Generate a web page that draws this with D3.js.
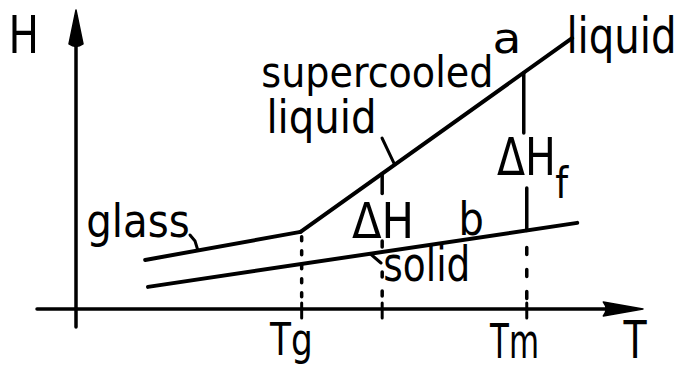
<!DOCTYPE html>
<html>
<head>
<meta charset="utf-8">
<script src="https://cdn.jsdelivr.net/npm/d3@7"></script>
<style>
  html, body { margin: 0; padding: 0; background: #fff; }
  svg { display: block; }
  text { fill: #000; }
</style>
</head>
<body>
<svg id="chart" width="679" height="367"></svg>
<script>
// Enthalpy H against temperature T (arbitrary units, 0–100 on both axes)
const glassLine  = [{ T: 12.2, H: 16.4 }, { T: 39.6, H: 25.8 }];
const liquidLine = [{ T: 39.6, H: 25.8 }, { T: 87.5, H: 90.6 }];
const solidLine  = [{ T: 12.7, H: 7.4 },  { T: 88.4, H: 28.8 }];

const tickTemps  = [39.8, 54.0, 79.5];
const tickLabels = ["Tg", "", "Tm"];
const deltaT     = 54.0;   // where the ΔH gap is marked
const meltT      = 79.5;   // Tm, where ΔHf is marked

const FONT = '"DejaVu Sans Condensed", "DejaVu Sans", sans-serif';
const svg = d3.select("#chart");

const x = d3.scaleLinear().domain([0, 100]).range([76, 643]);
const y = d3.scaleLinear().domain([0, 100]).range([309, 10]);

// value of a straight segment at temperature t
const at = (seg, t) =>
  d3.scaleLinear().domain([seg[0].T, seg[1].T]).range([seg[0].H, seg[1].H])(t);

const ink = "#000";
const g = svg.append("g")
  .attr("stroke", ink).attr("stroke-linecap", "round").attr("fill", "none");

// axes
g.append("line").attr("x1", 37).attr("x2", x(95)).attr("y1", y(0)).attr("y2", y(0)).attr("stroke-width", 3.5);
g.append("line").attr("x1", x(0)).attr("x2", x(0)).attr("y1", y(0) + 18).attr("y2", y(88)).attr("stroke-width", 3.5);
svg.append("path")
  .attr("d", `M${x(0)},${y(100)} L${x(0) + 7},${y(88) - 2} Q${x(0)},${y(87)} ${x(0) - 7},${y(88) - 2} Z`)
  .attr("fill", ink).attr("stroke", ink).attr("stroke-width", 1.5).attr("stroke-linejoin", "round");
svg.append("path")
  .attr("d", `M${x(100)},${y(0)} L${x(93)},${y(0) - 7} Q${x(94)},${y(0)} ${x(93)},${y(0) + 7} Z`)
  .attr("fill", ink).attr("stroke", ink).attr("stroke-width", 1.5).attr("stroke-linejoin", "round");

// the three branches
const line = d3.line().x(d => x(d.T)).y(d => y(d.H));
[glassLine, liquidLine, solidLine].forEach(seg => {
  g.append("path").datum(seg).attr("d", line).attr("stroke-width", 4);
});

// tick marks across the T axis
tickTemps.forEach(t => {
  g.append("line").attr("x1", x(t)).attr("x2", x(t))
    .attr("y1", y(0) - 6).attr("y2", y(0) + 9).attr("stroke-width", 3);
});

// Tg drop line from the glass transition
g.append("line").attr("x1", x(tickTemps[0])).attr("x2", x(tickTemps[0]))
  .attr("y1", y(at(glassLine, tickTemps[0])) + 5).attr("y2", y(0) - 8)
  .attr("stroke-width", 3.5).attr("stroke-dasharray", "4,10");

// ΔH marks: short strokes between supercooled liquid and solid
g.append("line").attr("x1", x(deltaT)).attr("x2", x(deltaT))
  .attr("y1", y(at(liquidLine, deltaT))).attr("y2", y(at(liquidLine, deltaT)) + 20).attr("stroke-width", 3.5);
g.append("line").attr("x1", x(deltaT)).attr("x2", x(deltaT))
  .attr("y1", y(at(solidLine, deltaT)) - 11).attr("y2", y(at(solidLine, deltaT)) - 5).attr("stroke-width", 3.5);
g.append("line").attr("x1", x(deltaT)).attr("x2", x(deltaT))
  .attr("y1", y(at(solidLine, deltaT)) + 20).attr("y2", y(0) - 8)
  .attr("stroke-width", 3.5).attr("stroke-dasharray", "5,14");

// ΔHf marks at the melting point
g.append("line").attr("x1", x(meltT) - 3).attr("x2", x(meltT) - 3)
  .attr("y1", y(at(liquidLine, meltT - 0.6))).attr("y2", 133).attr("stroke-width", 3.5);
g.append("line").attr("x1", x(meltT)).attr("x2", x(meltT))
  .attr("y1", 188).attr("y2", y(at(solidLine, meltT))).attr("stroke-width", 3.5);
g.append("line").attr("x1", x(meltT)).attr("x2", x(meltT))
  .attr("y1", y(at(solidLine, meltT)) + 17).attr("y2", y(0) - 8)
  .attr("stroke-width", 3.5).attr("stroke-dasharray", "7,15");

// leader strokes from the labels to their lines
const leaders = [
  [[190, 235], [195, 241], [x(21.5), y(at(glassLine, 21.5))]],
  [[382, 138], [x(56.2), y(at(liquidLine, 56.2))]],
  [[x(51.9), y(at(solidLine, 51.9))], [381, 263]]
];
leaders.forEach(pts => {
  g.append("path").attr("d", d3.line()(pts)).attr("stroke-width", 3);
});

// Lettering: each label is fitted to an ink box (left, right, top, baseline)
// and narrowed with a horizontal scale, like stencil lettering.
const ctx = document.createElement("canvas").getContext("2d");
function fit(d) {
  ctx.font = `100px ${FONT}`;
  const m = ctx.measureText(d.s);
  const size = 100 * (d.base - d.top) / m.actualBoundingBoxAscent;
  const k = size / 100;
  const inkW = (m.actualBoundingBoxLeft + m.actualBoundingBoxRight) * k;
  const sx = (d.right - d.left) / inkW;
  return {
    s: d.s, size, sx,
    x: d.left + m.actualBoundingBoxLeft * k * sx,
    y: d.base
  };
}

const tgX = x(tickTemps[0]), tmX = x(tickTemps[2]);
const labels = [
  { s: "H",           left: 12,  right: 35,  top: 15,  base: 53 },
  { s: "supercooled", left: 263, right: 490, top: 54,  base: 87 },
  { s: "liquid",      left: 270, right: 373, top: 98,  base: 133 },
  { s: "a",           left: 495, right: 517, top: 29,  base: 53 },
  { s: "liquid",      left: 570, right: 673, top: 15,  base: 53 },
  { s: "glass",       left: 88,  right: 188, top: 202, base: 237 },
  { s: "ΔH",          left: 352, right: 410, top: 202, base: 238 },
  { s: "b",           left: 462, right: 482, top: 200, base: 235 },
  { s: "ΔH",          left: 497, right: 552, top: 138, base: 175 },
  { s: "f",           left: 556, right: 569, top: 165, base: 198 },
  { s: "solid",       left: 385, right: 467, top: 245, base: 281 },
  { s: tickLabels[0], left: tgX - 32, right: tgX + 8, top: 322, base: 355 },
  { s: tickLabels[2], left: tmX - 37, right: tmX + 10, top: 322, base: 358 },
  { s: "T",           left: 623, right: 647, top: 320, base: 358 }
].map(fit);

svg.append("g").selectAll("text").data(labels).join("text")
  .attr("transform", d => `translate(${d.x},${d.y}) scale(${d.sx},1)`)
  .attr("font-family", FONT)
  .attr("font-size", d => d.size)
  .text(d => d.s);
</script>
</body>
</html>
